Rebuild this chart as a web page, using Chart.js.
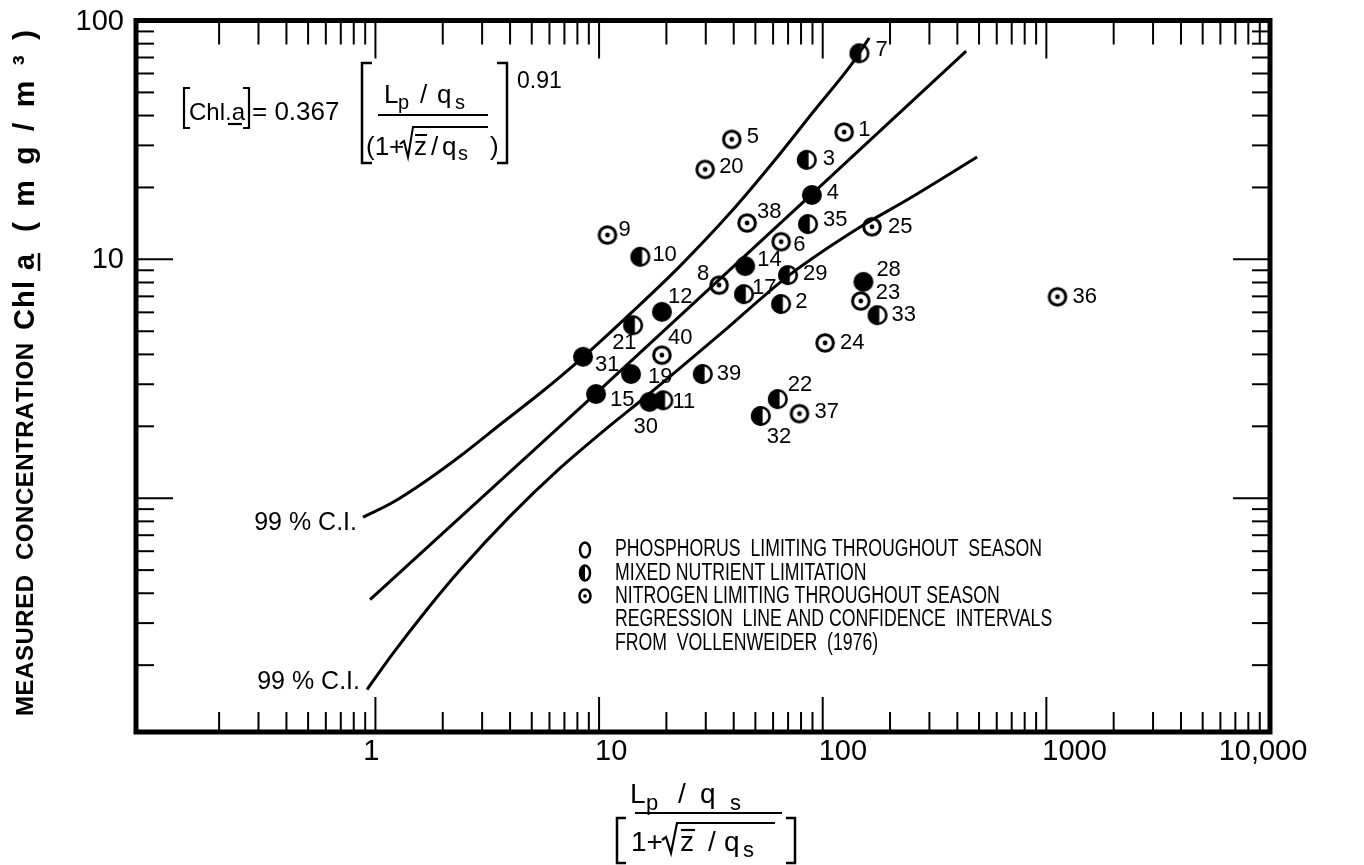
<!DOCTYPE html>
<html><head><meta charset="utf-8">
<style>html,body{margin:0;padding:0;background:#fff;} #c{display:block;}</style>
<script src="https://cdn.jsdelivr.net/npm/chart.js@4.4.1/dist/chart.umd.min.js"></script>
</head><body>
<canvas id="c" width="1364" height="865"></canvas>
<script>
// ---------- DATA ----------
const phosphorusIds = [4, 12, 14, 15, 19, 28, 30, 31];
const phosphorusX   = [89.4, 19.1, 45.0, 9.69, 13.9, 152, 16.8, 8.48];
const phosphorusY   = [18.6, 6.03, 9.37, 2.73, 3.31, 8.05, 2.53, 3.91];

const mixedIds = [2, 3, 7, 10, 11, 17, 21, 22, 29, 32, 33, 35, 39];
const mixedX   = [65.2, 84.9, 146, 15.3, 19.4, 44.5, 14.2, 63.0, 70.0, 52.9, 176, 86.0, 29.1];
const mixedY   = [6.50, 26.1, 72.9, 10.25, 2.57, 7.15, 5.30, 2.60, 8.59, 2.21, 5.84, 14.05, 3.31];

const nitrogenIds = [1, 5, 6, 8, 9, 20, 23, 24, 25, 36, 37, 38, 40];
const nitrogenX   = [124.7, 39.2, 65.2, 34.4, 10.9, 29.8, 148, 102.5, 166, 1121, 78.7, 45.9, 19.1];
const nitrogenY   = [34.1, 31.8, 11.85, 7.80, 12.64, 23.8, 6.69, 4.47, 13.69, 6.97, 2.26, 14.19, 3.97];

const regressionX = [0.946, 9.69, 89.4, 437.8];
const regressionY = [0.376, 2.75, 18.76, 74.5];
const upperCIX = [0.880, 1.198, 1.701, 2.389, 3.72, 5.45, 8.48, 14.19, 23.0, 38.5, 60.0, 90.6, 136.8, 161.3];
const upperCIY = [0.833, 0.962, 1.190, 1.499, 2.08, 2.75, 3.90, 6.07, 9.37, 15.62, 25.5, 41.4, 67.0, 84.5];
const lowerCIX = [0.917, 1.198, 1.701, 2.389, 4.0, 6.69, 10.1, 16.73, 34.8, 70.0, 147, 237.7, 490.4];
const lowerCIY = [0.158, 0.224, 0.342, 0.500, 0.841, 1.336, 1.86, 2.73, 4.86, 8.51, 13.65, 17.71, 26.8];

const xTickValues = [1, 10, 100, 1000, 10000];
const xTickLabels = ['1', '10', '100', '1000', '10,000'];
const yTickValues = [10, 100];
const yTickLabels = ['10', '100'];

const legendLabels = [
  'PHOSPHORUS  LIMITING THROUGHOUT  SEASON',
  'MIXED NUTRIENT LIMITATION',
  'NITROGEN LIMITING THROUGHOUT SEASON',
  'REGRESSION  LINE AND CONFIDENCE  INTERVALS',
  'FROM  VOLLENWEIDER  (1976)'
];
const ciLabel = '99 % C.I.';

// ---------- STYLE (label placement) ----------
const labelOffsets = {1:[14,-2],2:[14,-2],3:[16,-1],4:[15,-2],5:[15,-2],6:[12,3],7:[16,-3],8:[-22,-11],9:[11,-5],
  10:[12,-2],11:[9,2],12:[6,-15],14:[12,-6],15:[14,6],17:[8,-6],19:[17,3],20:[14,-2],21:[-21,18],22:[10,-14],
  23:[15,-8],24:[15,0],25:[16,0],28:[13,-12],29:[15,-1],30:[-16,25],31:[12,8],32:[6,21],33:[14,0],35:[15,-4],
  36:[15,0],37:[15,-2],38:[10,-11],39:[14,0],40:[6,-17]};
const LS = "'Liberation Sans', Arial, Helvetica, sans-serif";

function makeMarker(type) {
  const s = 26, c = document.createElement('canvas');
  c.width = s; c.height = s;
  const g = c.getContext('2d'), cx = 13, cy = 13;
  g.fillStyle = '#000'; g.strokeStyle = '#000';
  if (type === 'solid') {
    g.beginPath(); g.arc(cx, cy, 10, 0, Math.PI * 2); g.fill();
  } else if (type === 'half') {
    g.lineWidth = 2.6; g.beginPath(); g.arc(cx, cy, 8.7, 0, Math.PI * 2); g.stroke();
    g.beginPath(); g.arc(cx, cy, 10, Math.PI * 0.5, Math.PI * 1.5); g.closePath(); g.fill();
    g.fillRect(cx - 0.5, cy - 9.3, 2.2, 18.6);
  } else {
    g.lineWidth = 3; g.beginPath(); g.arc(cx, cy, 8.3, 0, Math.PI * 2); g.stroke();
    g.beginPath(); g.arc(cx, cy, 2.4, 0, Math.PI * 2); g.fill();
  }
  return c;
}
const solidMk = makeMarker('solid'), halfMk = makeMarker('half'), dotMk = makeMarker('dot');

const pts = (xs, ys) => xs.map((x, i) => ({x, y: ys[i]}));

function line(ctx, x1, y1, x2, y2) { ctx.beginPath(); ctx.moveTo(x1, y1); ctx.lineTo(x2, y2); ctx.stroke(); }

// draw text so it spans exactly [u0,u1] (letter-spaced)
function drawSpan(ctx, text, u0, u1, v) {
  const chars = Array.from(text);
  const ws = chars.map(ch => ctx.measureText(ch).width);
  const tot = ws.reduce((a, b) => a + b, 0);
  const span = u1 - u0;
  if (tot >= span || chars.length < 2) {
    ctx.save(); ctx.translate(u0, v); ctx.scale(span / tot, 1);
    ctx.textAlign = 'left'; ctx.fillText(text, 0, 0); ctx.restore(); return;
  }
  const gap = (span - tot) / (chars.length - 1);
  let u = u0;
  ctx.textAlign = 'left';
  chars.forEach((ch, i) => { ctx.fillText(ch, u, v); u += ws[i] + gap; });
}

function bracket(ctx, x, y0, y1, dir, serif) {
  ctx.beginPath(); ctx.moveTo(x + dir * serif, y0); ctx.lineTo(x, y0); ctx.lineTo(x, y1); ctx.lineTo(x + dir * serif, y1); ctx.stroke();
}

const decor = {
  id: 'decor',
  beforeDatasetsDraw(chart) {
    const ctx = chart.ctx, X = chart.scales.x, Y = chart.scales.y, a = chart.chartArea;
    ctx.save();
    ctx.strokeStyle = '#000'; ctx.fillStyle = '#000';
    // frame
    ctx.lineWidth = 5;
    ctx.strokeRect(a.left, a.top, a.right - a.left, a.bottom - a.top);
    // x ticks (inward, top and bottom)
    ctx.lineWidth = 2;
    for (let e = -1; e <= 4; e++) for (let m = 1; m <= 9; m++) {
      const v = m * Math.pow(10, e);
      if (v < 0.15 || v > 9000) continue;
      const px = X.getPixelForValue(v), major = m === 1;
      line(ctx, px, a.bottom, px, a.bottom - (major ? 35 : 20));
      line(ctx, px, a.top, px, a.top + (major ? 38 : 24));
    }
    // y ticks (inward, left and right)
    for (let e = -1; e <= 2; e++) for (let m = 1; m <= 9; m++) {
      const v = m * Math.pow(10, e);
      if (v <= Y.min * 1.02 || v >= 99) continue;
      const py = Y.getPixelForValue(v), major = m === 1;
      line(ctx, a.left, py, a.left + (major ? 37 : 18), py);
      line(ctx, a.right, py, a.right - (major ? 37 : 18), py);
    }
    // tick labels
    ctx.font = `29px ${LS}`; ctx.textBaseline = 'middle';
    xTickValues.forEach((v, i) => {
      const px = X.getPixelForValue(v);
      if (i === 0) { ctx.textAlign = 'center'; ctx.fillText(xTickLabels[i], px - 4, a.bottom + 20); }
      else if (i === xTickValues.length - 1) { ctx.textAlign = 'center'; ctx.fillText(xTickLabels[i], px - 7, a.bottom + 20); }
      else { ctx.textAlign = 'left'; ctx.fillText(xTickLabels[i], px - 4, a.bottom + 20); }
    });
    ctx.textAlign = 'right';
    yTickValues.forEach((v, i) => {
      const py = Y.getPixelForValue(v);
      ctx.fillText(yTickLabels[i], a.left - 12, py + 1);
    });

    // y-axis title (rotated)
    ctx.save();
    ctx.translate(26, 0); ctx.rotate(-Math.PI / 2);
    ctx.textBaseline = 'middle';
    ctx.font = `bold 24px ${LS}`;
    drawSpan(ctx, 'MEASURED  CONCENTRATION', -716, -343, 0);
    ctx.font = `bold 29px ${LS}`;
    drawSpan(ctx, 'Chl', -330, -281, 0);
    drawSpan(ctx, 'a', -270, -254, 0);
    ctx.lineWidth = 2.5; line(ctx, -271, 13, -253, 13);
    ctx.font = `bold 30px ${LS}`;
    drawSpan(ctx, '(mg/m³)', -232, -30, 0);
    ctx.restore();

    // x-axis title (fraction)
    ctx.textBaseline = 'alphabetic'; ctx.textAlign = 'left';
    ctx.font = `28px ${LS}`;
    ctx.fillText('L', 630, 803); ctx.fillText('/', 678, 803); ctx.fillText('q', 700, 803);
    ctx.font = `22px ${LS}`;
    ctx.fillText('p', 646, 810); ctx.fillText('s', 730, 810);
    ctx.lineWidth = 2.2;
    line(ctx, 635, 813, 782, 813);
    ctx.lineWidth = 2.5;
    bracket(ctx, 617, 818, 863, 1, 9);
    bracket(ctx, 795, 818, 863, -1, 9);
    ctx.font = `28px ${LS}`;
    ctx.fillText('1+', 631, 851);
    ctx.lineWidth = 2.2;
    ctx.beginPath(); ctx.moveTo(662, 840); ctx.lineTo(666, 837); ctx.lineTo(671, 853); ctx.lineTo(677, 823); ctx.lineTo(775, 823); ctx.stroke();
    ctx.fillText('z', 680, 851); ctx.fillText('/', 708, 851); ctx.fillText('q', 724, 851);
    line(ctx, 681, 830, 695, 830);
    ctx.font = `22px ${LS}`; ctx.fillText('s', 743, 857);

    // equation (top-left)
    ctx.lineWidth = 2.2;
    bracket(ctx, 184, 88, 128, 1, 6);
    bracket(ctx, 249, 88, 128, -1, 6);
    ctx.font = `24px ${LS}`;
    ctx.fillText('Chl.a', 189, 120);
    line(ctx, 228, 124, 242, 124);
    ctx.font = `26px ${LS}`;
    ctx.fillText('= 0.367', 252, 120);
    ctx.lineWidth = 2.5;
    bracket(ctx, 362, 63, 163, 1, 10);
    bracket(ctx, 507, 63, 163, -1, 10);
    ctx.font = `26px ${LS}`;
    ctx.fillText('L', 384, 103); ctx.fillText('/', 420, 103); ctx.fillText('q', 437, 103);
    ctx.font = `20px ${LS}`;
    ctx.fillText('p', 398, 109); ctx.fillText('s', 455, 109);
    ctx.lineWidth = 2;
    line(ctx, 378, 115, 488, 115);
    ctx.font = `26px ${LS}`;
    ctx.fillText('(1+', 366, 155);
    ctx.beginPath(); ctx.moveTo(400, 144); ctx.lineTo(404, 141); ctx.lineTo(408, 157); ctx.lineTo(413, 127); ctx.lineTo(488, 127); ctx.stroke();
    ctx.fillText('z', 414, 155); ctx.fillText('/', 431, 155); ctx.fillText('q', 442, 155);
    line(ctx, 415, 135, 427, 135);
    ctx.font = `20px ${LS}`; ctx.fillText('s', 458, 160);
    ctx.font = `26px ${LS}`; ctx.fillText(')', 490, 155);
    ctx.font = `23px ${LS}`; ctx.fillText('0.91', 517, 88);

    // CI labels
    ctx.font = `25px ${LS}`; ctx.textBaseline = 'middle'; ctx.textAlign = 'right';
    const u0x = X.getPixelForValue(upperCIX[0]), u0y = Y.getPixelForValue(upperCIY[0]);
    const l0x = X.getPixelForValue(lowerCIX[0]), l0y = Y.getPixelForValue(lowerCIY[0]);
    ctx.fillText(ciLabel, u0x - 6, u0y + 6);
    ctx.fillText(ciLabel, l0x - 7, l0y - 8);

    // legend
    ctx.textAlign = 'left'; ctx.textBaseline = 'middle';
    ctx.font = `23px ${LS}`;
    const sx = 427 / ctx.measureText(legendLabels[0]).width;
    legendLabels.forEach((t, i) => {
      const y = 550 + i * 23.3;
      ctx.save(); ctx.translate(615, y); ctx.scale(sx, 1); ctx.fillText(t, 0, 0); ctx.restore();
    });
    ctx.lineWidth = 2.5;
    ctx.beginPath(); ctx.ellipse(585, 550, 5, 7.5, 0, 0, Math.PI * 2); ctx.stroke();
    ctx.beginPath(); ctx.ellipse(585, 573, 5, 7.5, 0, 0, Math.PI * 2); ctx.stroke();
    ctx.beginPath(); ctx.ellipse(585, 573, 6, 8.5, 0, Math.PI * 0.5, Math.PI * 1.5); ctx.closePath(); ctx.fill();
    ctx.beginPath(); ctx.ellipse(585, 596, 5.5, 6.5, 0, 0, Math.PI * 2); ctx.stroke();
    ctx.beginPath(); ctx.arc(585, 596, 1.8, 0, Math.PI * 2); ctx.fill();
    ctx.restore();
  },
  afterDatasetsDraw(chart) {
    const ctx = chart.ctx, X = chart.scales.x, Y = chart.scales.y;
    ctx.save();
    ctx.fillStyle = '#000'; ctx.font = `22px ${LS}`;
    ctx.textBaseline = 'middle'; ctx.textAlign = 'left';
    [[phosphorusIds, phosphorusX, phosphorusY], [mixedIds, mixedX, mixedY], [nitrogenIds, nitrogenX, nitrogenY]]
      .forEach(([ids, xs, ys]) => ids.forEach((id, i) => {
        const px = X.getPixelForValue(xs[i]), py = Y.getPixelForValue(ys[i]);
        const off = labelOffsets[id] || [13, 0];
        ctx.fillText(String(id), px + off[0], py + off[1]);
      }));
    ctx.restore();
  }
};

const lineDs = (label, xs, ys, mode) => ({
  label, data: pts(xs, ys), showLine: true, pointRadius: 0, borderColor: '#000', borderWidth: 3,
  backgroundColor: '#000', fill: false, cubicInterpolationMode: mode, tension: 0
});

new Chart(document.getElementById('c'), {
  type: 'scatter',
  data: {
    datasets: [
      { label: 'Phosphorus limiting throughout season', data: pts(phosphorusX, phosphorusY), pointStyle: solidMk, pointRadius: 10 },
      { label: 'Mixed nutrient limitation', data: pts(mixedX, mixedY), pointStyle: halfMk, pointRadius: 10 },
      { label: 'Nitrogen limiting throughout season', data: pts(nitrogenX, nitrogenY), pointStyle: dotMk, pointRadius: 10 },
      lineDs('Regression line', regressionX, regressionY, 'default'),
      lineDs('Upper 99% C.I.', upperCIX, upperCIY, 'monotone'),
      lineDs('Lower 99% C.I.', lowerCIX, lowerCIY, 'monotone')
    ]
  },
  options: {
    responsive: false, animation: false, devicePixelRatio: 1,
    layout: { padding: { top: 20.5, right: 94, left: 0, bottom: 0 } },
    plugins: { legend: { display: false }, tooltip: { enabled: false } },
    scales: {
      x: { type: 'logarithmic', min: 0.085, max: 10000, grid: { display: false }, border: { display: false },
           ticks: { display: false }, afterFit(s) { s.height = 133; } },
      y: { type: 'logarithmic', min: 0.105, max: 100, grid: { display: false }, border: { display: false },
           ticks: { display: false }, afterFit(s) { s.width = 136; } }
    }
  },
  plugins: [decor]
});
</script>
</body></html>
